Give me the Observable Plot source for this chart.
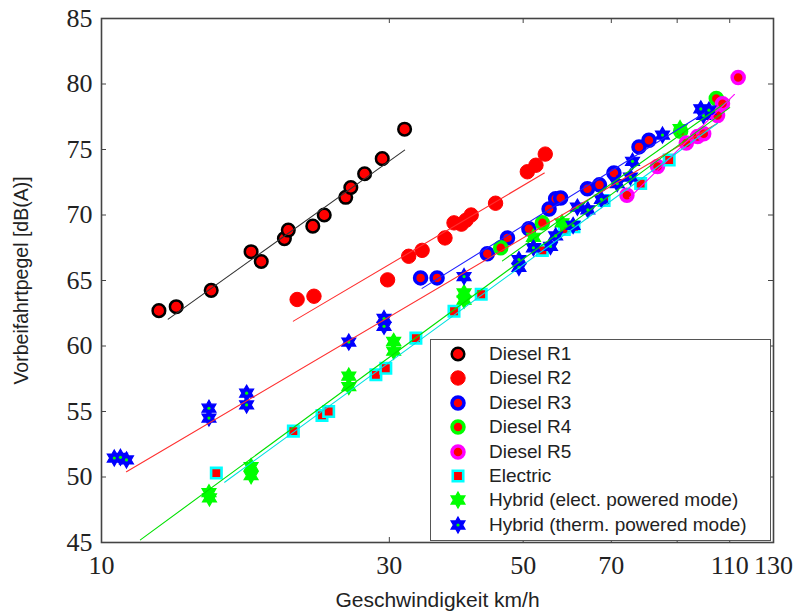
<!DOCTYPE html>
<html><head><meta charset="utf-8">
<script src="https://cdn.jsdelivr.net/npm/d3@7"></script>
<script src="https://cdn.jsdelivr.net/npm/@observablehq/plot@0.6"></script>
<style>
body{margin:0;background:#fff;}
#wrap{position:relative;width:798px;height:612px;overflow:hidden;}
#wrap svg.plot{position:absolute;left:0;top:0;}
#legend{position:absolute;left:430px;top:339px;width:339px;height:200px;border:1.5px solid #555;background:#fff;font-family:"Liberation Sans",Arial,sans-serif;font-size:19px;color:#222;}
.row{position:absolute;left:0;width:335px;height:24px;}
.row svg{position:absolute;left:12px;top:0;}
.row span{position:absolute;left:58px;top:1px;line-height:22px;white-space:nowrap;}
</style></head><body><div id="wrap"></div>
<script>
// ---------- data (speed km/h, level dB(A)) ----------
const xTicks = [10, 30, 50, 70, 90, 110, 130];
const yTicks = [45, 50, 55, 60, 65, 70, 75, 80, 85];
const seriesNames = ["Diesel R1","Diesel R2","Diesel R3","Diesel R4","Diesel R5","Electric","Hybrid (elect. powered mode)","Hybrid (therm. powered mode)"];

const dieselR1 = [[12.45,62.7],[13.3,63.0],[15.2,64.25],[17.7,67.2],[18.4,66.45],[20.1,68.2],[20.4,68.85],[22.4,69.15],[23.4,70.0],[25.4,71.35],[25.9,72.1],[27.3,73.15],[29.2,74.3],[31.8,76.55]];
const dieselR2 = [[21.1,63.55],[22.5,63.8],[29.8,65.05],[32.3,66.85],[34.0,67.3],[37.1,68.25],[38.4,69.4],[39.5,69.3],[40.2,69.6],[41.0,70.0],[45.0,70.9],[50.8,73.3],[52.5,73.8],[54.4,74.65]];
const dieselR3 = [[33.8,65.2],[36.0,65.2],[43.6,67.05],[47.1,68.25],[51.1,68.95],[55.2,70.45],[56.6,71.25],[57.7,71.3],[63.9,72.0],[66.9,72.3],[70.7,73.2],[77.8,75.2],[80.8,75.7]];
const dieselR4 = [[45.9,67.5],[53.8,69.4],[91.2,76.4],[104.5,78.9]];
const dieselR5 = [[74.3,71.5],[83.5,73.7],[93.2,75.5],[97.3,76.0],[99.6,76.2],[105,77.6],[107,78.5],[113.6,80.5]];
const electric = [[15.5,50.3],[20.8,53.5],[23.2,54.7],[23.8,55.0],[28.5,57.8],[29.6,58.3],[33.2,60.6],[38.4,62.65],[42.6,63.95],[53.8,67.3],[58.5,68.9],[60.7,69.1],[68.1,71.1],[78.3,72.4],[87.3,74.2]];
const hybridElect = [[15.07,48.8],[15.1,48.4],[17.7,50.8],[17.7,50.1],[25.7,57.7],[25.7,56.9],[30.5,60.35],[30.5,59.6],[39.9,64.05],[39.9,63.5],[52,68.3],[58,69.4],[91.0,76.6]];
const hybridTherm = [[10.5,51.45],[10.75,51.5],[11.0,51.3],[15.07,55.25],[15.07,54.5],[17.4,56.4],[17.4,55.5],[25.7,60.3],[29.4,62.1],[29.4,61.5],[39.9,65.3],[49.2,66.6],[49.2,66.0],[52,67.5],[55.5,67.6],[56.6,68.4],[60.5,69.2],[61.5,70.6],[64,70.4],[67.4,71.2],[71.6,72.4],[75.3,72.9],[75.9,74.1],[85.1,76.1],[98.5,78.1],[101.6,78.0],[99.5,77.6]];

// fitted trend lines (end points)
const fitR1 = [[12.9,62.05],[31.8,74.95]];
const fitR2 = [[20.8,61.9],[54.2,73.2]];
const fitRedLong = [[11.0,50.4],[105,77.0]];
const fitR3 = [[34.0,64.4],[100,77.8]];
const fitR4 = [[46.2,66.5],[110,78.8]];
const fitR5 = [[75,71.3],[112,79.2]];
const fitElectric = [[16,49.6],[105,77.0]];
const fitHybridElect = [[11.6,45.2],[110,78.2]];

// ---------- layout ----------
const W = 798, H = 612, mL = 101, mR = 25, mT = 18, mB = 70;
const fw = W - mL - mR, fh = H - mT - mB, tl = 5;

const hexagram = {
  draw(ctx, size) {
    const R = Math.sqrt(size / Math.PI) * 1.3, r = R / Math.sqrt(3);
    for (let i = 0; i < 12; i++) {
      const a = Math.PI / 6 * i - Math.PI / 2, rr = i % 2 ? r : R;
      const x = rr * Math.cos(a), y = rr * Math.sin(a);
      i ? ctx.lineTo(x, y) : ctx.moveTo(x, y);
    }
    ctx.closePath();
  }
};

const styles = [
  {data: dieselR1, symbol: "circle", fill: "#ff0000", stroke: "#000000", sw: 2.5, r: 6.3},
  {data: dieselR2, symbol: "circle", fill: "#ff0000", stroke: "#ff0000", sw: 1, r: 7.2},
  {data: dieselR3, symbol: "circle", fill: "#ff0000", stroke: "#0000ff", sw: 3.5, r: 6},
  {data: dieselR4, symbol: "circle", fill: "#ff0000", stroke: "#00ff00", sw: 3.5, r: 6},
  {data: dieselR5, symbol: "circle", fill: "#ff0000", stroke: "#ff00ff", sw: 3.5, r: 6},
  {data: electric, symbol: "square", fill: "#ff0000", stroke: "#00ffff", sw: 2.6, r: 5.9},
  {data: hybridElect, symbol: hexagram, fill: "#00ff00", stroke: "#00ff00", sw: 1.2, r: 6.2},
  {data: hybridTherm, symbol: hexagram, fill: "#0000ff", stroke: "#0000ff", sw: 1.2, r: 6.2, center: "#00ff00"}
];

const fits = [
  [fitR1, "#333333"], [fitR2, "#ff3030"], [fitRedLong, "#ff3030"], [fitR3, "#2020ff"],
  [fitR4, "#00dd00"], [fitR5, "#ff00ff"], [fitElectric, "#00e0e0"], [fitHybridElect, "#00e000"]
];

const marks = [];
for (const s of styles) {
  marks.push(Plot.dot(s.data, {x: d => d[0], y: d => d[1], symbol: s.symbol, r: s.r, fill: s.fill, stroke: s.stroke, strokeWidth: s.sw}));
  if (s.center) marks.push(Plot.dot(s.data, {x: d => d[0], y: d => d[1], r: 1.6, fill: s.center}));
}
for (const [pts, col] of fits) {
  marks.push(Plot.line(pts, {x: d => d[0], y: d => d[1], stroke: col, strokeWidth: 1.1}));
}

const chart = Plot.plot({
  width: W, height: H,
  marginLeft: mL, marginRight: mR, marginTop: mT, marginBottom: mB,
  style: {background: "transparent", color: "#222", overflow: "visible"},
  x: {type: "log", domain: [10, 130]},
  y: {domain: [45, 85]},
  marks: [
    ...marks,
    Plot.frame({stroke: "#444", strokeWidth: 1.6}),
    Plot.ruleX(xTicks, {insetTop: fh - tl, stroke: "#444"}),
    Plot.ruleX(xTicks, {insetBottom: fh - tl, stroke: "#444"}),
    Plot.ruleY(yTicks, {insetRight: fw - tl, stroke: "#444"}),
    Plot.ruleY(yTicks, {insetLeft: fw - tl, stroke: "#444"}),
    Plot.axisX(xTicks, {tickSize: 0, tickPadding: 13, fontSize: 26, fontFamily: "Liberation Serif", tickFormat: d => String(d), label: null}),
    Plot.axisY(yTicks, {tickSize: 0, tickPadding: 9, fontSize: 26, fontFamily: "Liberation Serif", tickFormat: d => String(d), label: null}),
    Plot.text(["Geschwindigkeit km/h"], {frameAnchor: "bottom", dy: 64, lineAnchor: "bottom", textAnchor: "middle", fontSize: 21, fontFamily: "Liberation Sans", fill: "#222"}),
    Plot.text(["Vorbeifahrtpegel [dB(A)]"], {frameAnchor: "left", dx: -80, rotate: -90, textAnchor: "middle", lineAnchor: "middle", fontSize: 19.5, fontFamily: "Liberation Sans", fill: "#222"})
  ]
});
chart.classList.add("plot");
const wrap = document.getElementById("wrap");
wrap.appendChild(chart);

// ---------- legend ----------
const legend = document.createElement("div");
legend.id = "legend";
styles.forEach((s, i) => {
  const row = document.createElement("div");
  row.className = "row";
  row.style.top = (2 + i * 24.4) + "px";
  const sym = typeof s.symbol === "string" ? (s.symbol === "square" ? d3.symbolSquare : d3.symbolCircle) : s.symbol;
  const path = d3.symbol(sym, s.r * s.r * Math.PI)();
  let svg = `<svg width="30" height="24"><path transform="translate(15,12)" d="${path}" fill="${s.fill}" stroke="${s.stroke}" stroke-width="${s.sw}"/>`;
  if (s.center) svg += `<circle cx="15" cy="12" r="1.6" fill="${s.center}"/>`;
  svg += `</svg>`;
  row.innerHTML = svg + `<span>${seriesNames[i]}</span>`;
  legend.appendChild(row);
});
wrap.appendChild(legend);
</script>
</body></html>
